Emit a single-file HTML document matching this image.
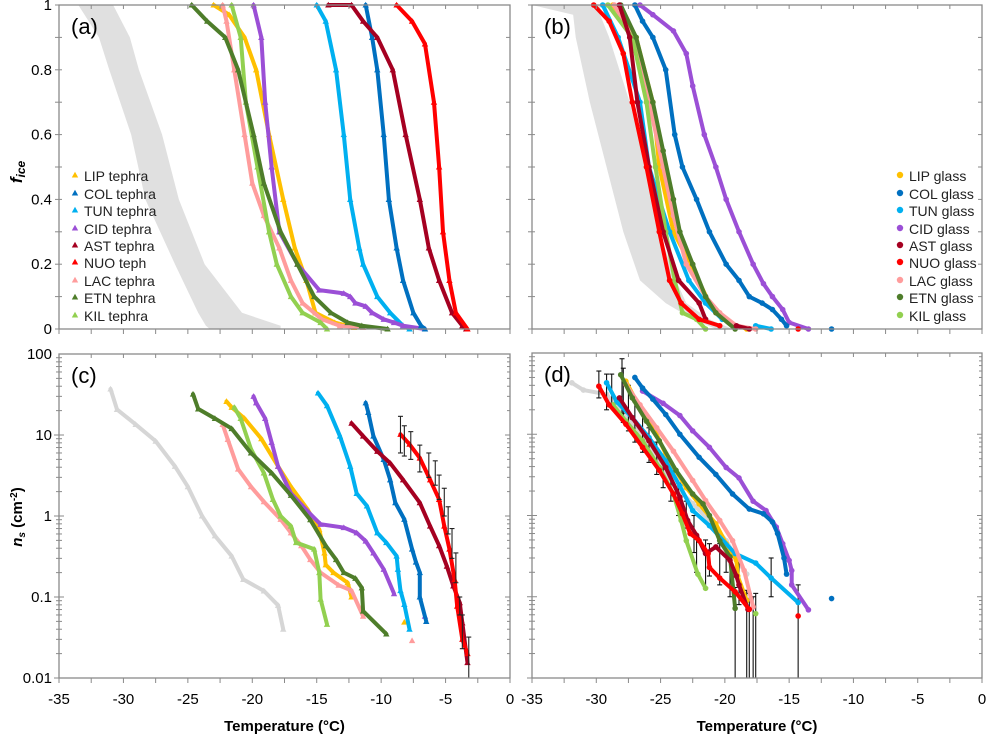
<!DOCTYPE html>
<html><head><meta charset="utf-8">
<style>
html,body{margin:0;padding:0;background:#fff;}
svg{display:block;font-family:"Liberation Sans",Arial,sans-serif;}
</style></head>
<body>
<svg id="chart" width="987" height="734" viewBox="0 0 987 734" xmlns="http://www.w3.org/2000/svg"></svg>
<script>
// ---------- DATA ----------
const seriesNames = ['LIP','COL','TUN','CID','AST','NUO','LAC','ETN','KIL'];
const seriesColors = ['#FFC000','#0070C0','#00B0F0','#9B4FD6','#A50021','#FF0000','#FF9C9C','#4E7D2A','#92D050'];
const tephraLabels = ['LIP tephra','COL tephra','TUN tephra','CID tephra','AST tephra','NUO teph','LAC tephra','ETN tephra','KIL tephra'];
const glassLabels = ['LIP glass','COL glass','TUN glass','CID glass','AST glass','NUO glass','LAC glass','ETN glass','KIL glass'];
const xTicks = [-35,-30,-25,-20,-15,-10,-5,0];
const fTicks = [0,0.2,0.4,0.6,0.8,1];
const fTickLabels = ['0','0.2','0.4','0.6','0.8','1'];
const nsTicks = [0.01,0.1,1,10,100];
const nsTickLabels = ['0.01','0.1','1','10','100'];

// panel (a) grey band
const grayA_f = [1,0.9,0.8,0.6,0.4,0.2,0.05,0.01,0];
const grayA_left = [-33.5,-31.9,-31.1,-29.4,-28.3,-26.0,-24.2,-23.6,-23.3];
const grayA_right = [-30.8,-29.5,-28.8,-27.0,-25.7,-23.7,-20.8,-17.8,-17.8];
// panel (b) grey band
const grayB_f = [1,0.97,0.9,0.7,0.5,0.3,0.15,0.08,0.03,0];
const grayB_left = [-35,-31.8,-31.6,-30.5,-29.2,-27.9,-26.6,-24.6,-22.5,-20.7];
const grayB_right = [-29.7,-29.7,-29.0,-27.4,-26.1,-25.1,-23.8,-23.0,-21.2,-19.4];

// panel (a) tephra fice
const aLIP_T=[-23.0,-21.8,-20.6,-19.7,-18.7,-17.6,-16.7,-15.8,-15.1,-13.6,-12.1];
const aLIP_f=[1,0.97,0.9,0.8,0.6,0.4,0.25,0.15,0.05,0.02,0.005];
const aCOL_T=[-11.2,-10.7,-10.3,-9.8,-9.4,-8.8,-8.3,-7.5,-6.9,-6.6];
const aCOL_f=[1,0.9,0.8,0.6,0.4,0.25,0.15,0.05,0.01,0];
const aTUN_T=[-15.0,-14.3,-13.5,-12.9,-12.4,-11.7,-11.4,-10.3,-9.3,-8.3,-7.8];
const aTUN_f=[1,0.95,0.8,0.6,0.4,0.25,0.2,0.1,0.05,0.01,0];
const aCID_T=[-19.9,-19.3,-19.0,-18.5,-17.9,-16.5,-14.8,-12.9,-12.4,-12.0,-11.2,-10.7,-9.8,-9.0,-8.3,-6.6];
const aCID_f=[1,0.9,0.7,0.5,0.3,0.2,0.12,0.11,0.1,0.08,0.07,0.05,0.03,0.02,0.01,0];
const aAST_T=[-14.1,-12.3,-11.4,-10.3,-9.1,-8.1,-7.0,-6.3,-5.5,-4.5,-3.7,-3.4];
const aAST_f=[1,1,0.95,0.9,0.8,0.6,0.4,0.25,0.15,0.05,0.01,0];
const aNUO_T=[-8.8,-7.6,-6.6,-5.9,-5.5,-5.2,-4.7,-4.2,-3.3];
const aNUO_f=[1,0.95,0.88,0.7,0.5,0.3,0.15,0.05,0];
const aLAC_T=[-22.3,-22.0,-21.4,-20.6,-20.0,-19.1,-17.9,-17.0,-16.1,-14.6,-13.2,-11.4];
const aLAC_f=[1,0.95,0.8,0.6,0.45,0.35,0.25,0.15,0.08,0.03,0.01,0.005];
const aETN_T=[-24.7,-23.5,-22.1,-21.1,-19.9,-19.1,-17.8,-16.5,-15.2,-13.9,-12.6,-11.5,-9.5];
const aETN_f=[1,0.95,0.9,0.8,0.6,0.45,0.3,0.2,0.1,0.05,0.02,0.01,0];
const aKIL_T=[-21.6,-20.9,-20.5,-19.6,-18.7,-18.1,-17.0,-16.1,-14.7,-14.2];
const aKIL_f=[1,0.9,0.7,0.5,0.3,0.2,0.1,0.05,0.02,0];

// panel (b) glass fice
const bLIP_T=[-28.7,-26.9,-25.6,-25.1,-24.0,-22.3,-21.2,-19.7,-18.3];
const bLIP_f=[1,0.9,0.7,0.5,0.3,0.17,0.08,0.02,0];
const bCOL_T=[-27.0,-26.4,-25.6,-24.6,-23.9,-23.3,-22.2,-21.2,-19.9,-18.9,-18.1,-17.1,-16.3,-15.6,-15.2,-11.7];
const bCOL_f=[1,0.95,0.9,0.8,0.6,0.5,0.4,0.3,0.2,0.15,0.1,0.08,0.06,0.03,0.01,0];
const bTUN_T=[-29.5,-28.3,-26.6,-25.9,-24.3,-22.8,-21.5,-20.2,-17.6,-16.4];
const bTUN_f=[1,0.9,0.7,0.5,0.3,0.15,0.08,0.03,0.01,0];
const bCID_T=[-26.6,-25.6,-24.0,-23.0,-22.5,-21.6,-20.7,-19.9,-18.9,-17.8,-17.0,-16.3,-15.5,-15.0,-13.5];
const bCID_f=[1,0.97,0.92,0.85,0.75,0.6,0.5,0.4,0.3,0.2,0.14,0.1,0.06,0.02,0];
const bAST_T=[-28.2,-27.4,-26.8,-25.9,-24.8,-23.6,-22.0,-21.5,-19.1,-18.1];
const bAST_f=[1,0.9,0.7,0.5,0.3,0.15,0.08,0.03,0.01,0];
const bNUO_T=[-30.2,-29.0,-27.9,-27.2,-26.1,-25.1,-24.3,-23.4,-22.0,-20.4,-14.3];
const bNUO_f=[1,0.95,0.85,0.7,0.5,0.3,0.15,0.08,0.03,0.01,0];
const bLAC_T=[-28.6,-27.2,-25.9,-24.8,-24.0,-23.0,-21.5,-20.4,-19.1,-17.6];
const bLAC_f=[1,0.9,0.7,0.5,0.35,0.2,0.1,0.05,0.01,0];
const bETN_T=[-28.1,-26.9,-25.6,-24.8,-24.0,-23.5,-22.5,-21.5,-20.7,-19.2];
const bETN_f=[1,0.9,0.7,0.55,0.4,0.3,0.2,0.1,0.05,0];
const bKIL_T=[-29.1,-27.2,-26.1,-25.4,-24.6,-23.9,-23.3,-22.2,-21.5];
const bKIL_f=[1,0.9,0.7,0.5,0.3,0.15,0.05,0.03,0];

// panel (c) tephra ns
const cGRAY_T=[-31.0,-30.5,-29.05,-27.5,-26.0,-25.0,-23.9,-22.9,-21.6,-20.7,-19.1,-18.0,-17.6];
const cGRAY_n=[37,20.7,13.5,8.4,4.1,2.3,1.0,0.57,0.32,0.165,0.119,0.079,0.040];
const cLIP_T=[-22.0,-21.6,-20.6,-19.3,-18.0,-17.0,-15.7,-14.8,-14.4,-14.3,-13.7,-12.6,-12.3,-8.2];
const cLIP_n=[26,22,16,9,4.1,2.3,1.2,0.68,0.35,0.25,0.2,0.15,0.1,0.049];
const cCOL_T=[-11.2,-11.0,-10.6,-9.8,-9.3,-8.9,-8.2,-7.6,-7.3,-7.0,-7.0,-6.5];
const cCOL_n=[25,19,9.7,5,2.8,1.46,0.91,0.39,0.27,0.2,0.1,0.05];
const cTUN_T=[-14.9,-14.2,-13.2,-12.4,-11.9,-11.1,-10.3,-9.6,-8.8,-8.7,-8.5,-8.2,-7.8];
const cTUN_n=[33,23,9.7,4.1,1.9,1.33,0.62,0.47,0.32,0.22,0.12,0.081,0.04];
const cCID_T=[-19.9,-19.7,-19.0,-18.5,-18.0,-17.0,-15.6,-14.7,-12.9,-11.9,-11.2,-10.6,-9.8,-9.0,-6.6];
const cCID_n=[30,25,16,8.1,4.1,1.9,1.1,0.79,0.72,0.62,0.49,0.35,0.22,0.11,0.058];
const cAST_T=[-12.3,-11.4,-10.3,-9.3,-8.3,-7.0,-6.2,-5.5,-4.9,-4.4,-3.9,-3.7,-3.3];
const cAST_n=[14,9.7,6.3,4.5,2.8,1.46,0.75,0.43,0.24,0.137,0.085,0.048,0.0155];
const cNUO_T=[-8.5,-7.8,-7.0,-6.2,-5.5,-5.1,-4.7,-4.3,-4.1,-3.7,-3.3];
const cNUO_n=[10.2,7.7,5.2,2.8,1.6,0.75,0.39,0.165,0.077,0.03,0.02];
const cLAC_T=[-22.3,-21.9,-21.1,-20.1,-19.1,-17.8,-17.0,-16.2,-15.5,-14.7,-13.3,-12.3,-11.4,-7.6];
const cLAC_n=[13.5,8.8,3.8,2.3,1.5,0.91,0.62,0.43,0.29,0.2,0.14,0.12,0.058,0.029];
const cETN_T=[-24.6,-24.2,-22.9,-21.6,-20.1,-18.5,-17.0,-15.5,-14.3,-13.5,-12.9,-12.0,-11.5,-11.4,-9.6];
const cETN_n=[32,21,16,12,6,3.4,1.8,0.9,0.43,0.29,0.2,0.17,0.13,0.067,0.035];
const cKIL_T=[-21.4,-20.9,-20.1,-19.1,-18.4,-17.8,-17.0,-16.6,-15.2,-14.8,-14.7,-14.2];
const cKIL_n=[22,16,6.7,3.4,1.6,1.0,0.75,0.47,0.39,0.2,0.094,0.046];
const cErr_T=[-8.5,-8.2,-7.7,-7.0,-6.3,-5.8,-5.5,-5.1,-4.8,-4.5,-4.2,-3.9,-3.7,-3.2];
const cErr_lo=[6,5.5,5,3.5,3,2.4,1.6,1.0,0.6,0.3,0.15,0.06,0.023,0.01];
const cErr_hi=[17,13,11,7.5,6,4.8,3.2,2.2,1.3,0.7,0.35,0.1,0.06,0.032];

// panel (d) glass ns
const dGRAY_T=[-31.9,-31.0,-29.2,-27.9,-26.6,-25.3,-24.0,-22.5,-21.2,-19.9,-18.9,-18.3];
const dGRAY_n=[43,35,31,17.5,11,5.2,2.4,1.4,0.87,0.49,0.26,0.19];
const dLIP_T=[-27.7,-26.6,-25.6,-24.6,-23.0,-22.0,-20.7,-19.9,-19.1,-19.0,-18.3];
const dLIP_n=[45,21,12.6,5.7,2.2,1.39,0.79,0.45,0.28,0.18,0.09];
const dCOL_T=[-27.0,-26.4,-25.6,-24.6,-23.5,-22.0,-20.7,-19.4,-18.1,-17.0,-16.3,-15.9,-15.4,-15.2,-11.7];
const dCOL_n=[50,37,27,17.5,10,5.2,3.2,1.84,1.2,1.05,0.83,0.6,0.3,0.19,0.095];
const dTUN_T=[-29.2,-28.4,-27.2,-25.9,-24.6,-23.5,-22.5,-21.2,-19.2,-17.6,-16.4,-14.3];
const dTUN_n=[43,25,16,9.1,4.7,2.3,1.15,0.75,0.34,0.26,0.17,0.085];
const dCID_T=[-26.4,-24.8,-23.5,-22.5,-21.2,-19.9,-18.9,-17.8,-16.8,-16.0,-15.5,-15.0,-14.8,-14.8,-13.5];
const dCID_n=[34,24,17,11,6.9,3.9,2.9,1.5,1.15,0.72,0.45,0.28,0.21,0.14,0.069];
const dAST_T=[-28.2,-27.2,-25.9,-24.6,-23.5,-22.9,-22.2,-21.5,-20.7,-19.6,-19.1,-18.9,-18.2];
const dAST_n=[28,16,8.3,3.9,1.68,0.87,0.57,0.34,0.41,0.28,0.18,0.14,0.07];
const dNUO_T=[-29.8,-29.0,-27.7,-26.4,-25.1,-24.0,-23.3,-22.7,-22.0,-21.3,-21.2,-20.4,-19.2,-18.1,-14.3];
const dNUO_n=[39,23,13.3,6.9,3.6,1.84,1.05,0.6,0.49,0.34,0.23,0.17,0.115,0.07,0.058];
const dLAC_T=[-27.7,-26.6,-25.3,-24.0,-22.5,-21.5,-20.4,-19.4,-18.5,-17.8];
const dLAC_n=[41,23,12,6.2,2.7,1.53,0.87,0.49,0.21,0.075];
const dETN_T=[-28.1,-27.2,-26.1,-25.1,-23.8,-22.5,-21.7,-21.2,-20.4,-19.6,-19.2];
const dETN_n=[54,28,14.5,8.3,3.6,1.84,1.39,1.0,0.49,0.31,0.072];
const dKIL_T=[-28.7,-27.7,-26.4,-25.1,-24.0,-23.4,-23.0,-22.1,-21.5,-17.6];
const dKIL_n=[23,14.5,8.3,3.9,1.84,0.87,0.49,0.19,0.127,0.062];
const dErr_T=[-29.8,-29.2,-28.8,-28.0,-27.9,-27.5,-27.0,-26.4,-25.9,-25.3,-24.8,-24.2,-23.6,-23.0,-22.4,-22.2,-21.5,-21.2,-20.4,-19.9,-19.6,-19.2,-18.9,-18.3,-18.1,-17.8,-17.6,-16.4,-14.3];
const dErr_lo=[28,20,22,18,14,11,8,6,4.5,3.2,2.2,1.5,1.0,0.7,0.35,0.2,0.13,0.18,0.14,0.2,0.1,0.01,0.08,0.01,0.01,0.01,0.01,0.1,0.01];
const dErr_hi=[60,55,55,85,65,40,25,18,12,8,5.5,3.8,2.5,1.5,1.0,0.55,0.5,0.45,0.45,0.4,0.38,0.13,0.3,0.12,0.11,0.1,0.11,0.3,0.14];

// ---------- RENDER ----------
const svg = document.getElementById('chart');
const NS = 'http://www.w3.org/2000/svg';
function el(tag, attrs, parent){
  const e = document.createElementNS(NS, tag);
  for (const k in attrs) e.setAttribute(k, attrs[k]);
  (parent || svg).appendChild(e);
  return e;
}
const panels = {
  a:{x0:59,x1:510,yT:5,yB:329,log:false},
  b:{x0:532,x1:982,yT:5,yB:329,log:false},
  c:{x0:59,x1:510,yT:354,yB:678,log:true},
  d:{x0:532,x1:982,yT:353,yB:678,log:true}
};
function sx(p,t){ return p.x0 + (t+35)/35*(p.x1-p.x0); }
function sy(p,v){
  if (p.log){ return p.yB - (Math.log10(v)+2)/4*(p.yB-p.yT); }
  return p.yB - v*(p.yB-p.yT);
}

function drawAxes(key, showXLabels, showYLabels){
  const p = panels[key];
  const g = el('g',{});
  
  
  const frame = el('rect',{x:p.x0,y:p.yT,width:p.x1-p.x0,height:p.yB-p.yT,fill:'none',stroke:'#8a8a8a','stroke-width':1.3},g);
  
  
  for (let t=-35;t<=0;t+=2.5){
    const x = sx(p,t);
    el('line',{x1:x,x2:x,y1:p.yB,y2:p.yB+5,stroke:'#8a8a8a','stroke-width':1},g);
    el('line',{x1:x,x2:x,y1:p.yT,y2:p.yT+4,stroke:'#8a8a8a','stroke-width':1},g);
  }
  if (!p.log){
    for (let i=0;i<=10;i++){
      const y = sy(p,i/10);
      el('line',{x1:p.x0-4,x2:p.x0+3,y1:y,y2:y,stroke:'#8a8a8a','stroke-width':1},g);
      el('line',{x1:p.x1-4,x2:p.x1,y1:y,y2:y,stroke:'#8a8a8a','stroke-width':1},g);
    }
  } else {
    for (let d=-2; d<2; d++){
      for (let m=1;m<=9;m++){
        const y = sy(p, m*Math.pow(10,d));
        const len = m===1?5:3;
        el('line',{x1:p.x0-len,x2:p.x0+len,y1:y,y2:y,stroke:'#8a8a8a','stroke-width':1},g);
        el('line',{x1:p.x1-len,x2:p.x1,y1:y,y2:y,stroke:'#8a8a8a','stroke-width':1},g);
      }
    }
  }
  if (showYLabels){
    const ticks = p.log ? nsTicks : fTicks;
    const labs = p.log ? nsTickLabels : fTickLabels;
    ticks.forEach((v,i)=>{
      const t = el('text',{x:p.x0-7,y:sy(p,v)+5,'text-anchor':'end','font-size':15,fill:'#000'},g);
      t.textContent = labs[i];
      
      
    });
  }
  if (showXLabels){
    xTicks.forEach(v=>{
      const t = el('text',{x:sx(p,v),y:p.yB+26,'text-anchor':'middle','font-size':15,fill:'#000'},g);
      t.textContent = String(v);
      
      
    });
    const tt = el('text',{x:(p.x0+p.x1)/2,y:731,'text-anchor':'middle','font-size':15,'font-weight':'bold',fill:'#000'},g);
    tt.textContent = 'Temperature (°C)';
    
    
  }
  const pl = el('text',{x:p.x0+12,y:p.yT+29,'font-size':22,fill:'#000'},g);
  pl.textContent = '('+key+')';
  
  
}

function drawBand(key, fArr, leftArr, rightArr){
  const p = panels[key];
  const pts = [];
  for (let i=0;i<fArr.length;i++) pts.push(sx(p,leftArr[i])+','+sy(p,fArr[i]));
  for (let i=fArr.length-1;i>=0;i--) pts.push(sx(p,rightArr[i])+','+sy(p,fArr[i]));
  const poly = el('polygon',{points:pts.join(' '),fill:'#e0e0e0',stroke:'none'});
  
  
}

function marker(g, shape, x, y, color, r){
  if (shape==='tri'){
    return el('polygon',{points:`${x},${y-r} ${x-r},${y+r*0.8} ${x+r},${y+r*0.8}`,fill:color},g);
  }
  return el('circle',{cx:x,cy:y,r:r,fill:color},g);
}

function drawSeries(key, name, T, V, color, shape){
  const p = panels[key];
  const g = el('g',{});
  
  
  const px = T.map(t=>sx(p,t));
  const py = V.map(v=>sy(p,v));
  for (let i=1;i<px.length;i++){
    const dx = Math.abs(px[i]-px[i-1]), dy = Math.abs(py[i]-py[i-1]);
    if (Math.hypot(dx,dy) < 30 || dx < 1.2*dy){
      el('line',{x1:px[i-1],y1:py[i-1],x2:px[i],y2:py[i],stroke:color,'stroke-width':4,'stroke-linecap':'round'},g);
    }
  }
  for (let i=0;i<px.length;i++){
    const m = marker(g, shape, px[i], py[i], color, shape==='tri'?3.2:2.8);
    
    
  }
}

function drawErr(key, T, lo, hi, color){
  const p = panels[key];
  const g = el('g',{});
  
  
  for (let i=0;i<T.length;i++){
    const x = sx(p,T[i]);
    const y1 = sy(p,lo[i]), y2 = sy(p,hi[i]);
    const l = el('line',{x1:x,x2:x,y1:y1,y2:y2,stroke:color,'stroke-width':1.1},g);
    
    
    el('line',{x1:x-2.5,x2:x+2.5,y1:y2,y2:y2,stroke:color,'stroke-width':1.1},g);
    if (lo[i]>0.0101) el('line',{x1:x-2.5,x2:x+2.5,y1:y1,y2:y1,stroke:color,'stroke-width':1.1},g);
  }
}

function drawLegend(x, labels, shape){
  const g = el('g',{});
  
  
  const ys = [176,194,211,229,246,263,281,298,316];
  labels.forEach((lab,i)=>{
    const e = el('g',{},g);
    
    
    marker(e, shape, x, ys[i]-1, seriesColors[i], 3.2);
    const t = el('text',{x:x+9,y:ys[i]+5,'font-size':14,fill:'#222'},e);
    t.textContent = lab;
  });
}

drawBand('a', grayA_f, grayA_left, grayA_right);
drawBand('b', grayB_f, grayB_left, grayB_right);

const aT=[aLIP_T,aCOL_T,aTUN_T,aCID_T,aAST_T,aNUO_T,aLAC_T,aETN_T,aKIL_T];
const aF=[aLIP_f,aCOL_f,aTUN_f,aCID_f,aAST_f,aNUO_f,aLAC_f,aETN_f,aKIL_f];
const bT=[bLIP_T,bCOL_T,bTUN_T,bCID_T,bAST_T,bNUO_T,bLAC_T,bETN_T,bKIL_T];
const bF=[bLIP_f,bCOL_f,bTUN_f,bCID_f,bAST_f,bNUO_f,bLAC_f,bETN_f,bKIL_f];
const cT=[cLIP_T,cCOL_T,cTUN_T,cCID_T,cAST_T,cNUO_T,cLAC_T,cETN_T,cKIL_T];
const cN=[cLIP_n,cCOL_n,cTUN_n,cCID_n,cAST_n,cNUO_n,cLAC_n,cETN_n,cKIL_n];
const dT=[dLIP_T,dCOL_T,dTUN_T,dCID_T,dAST_T,dNUO_T,dLAC_T,dETN_T,dKIL_T];
const dN=[dLIP_n,dCOL_n,dTUN_n,dCID_n,dAST_n,dNUO_n,dLAC_n,dETN_n,dKIL_n];

drawSeries('c','GRAY',cGRAY_T,cGRAY_n,'#d6d6d6','tri');
drawSeries('d','GRAY',dGRAY_T,dGRAY_n,'#d6d6d6','circ');
drawErr('d', dErr_T, dErr_lo, dErr_hi, '#111');
const order=[0,2,3,1,6,8,7,4,5];
order.forEach(i=>{
  drawSeries('a',seriesNames[i],aT[i],aF[i],seriesColors[i],'tri');
  drawSeries('b',seriesNames[i],bT[i],bF[i],seriesColors[i],'circ');
  drawSeries('c',seriesNames[i],cT[i],cN[i],seriesColors[i],'tri');
  drawSeries('d',seriesNames[i],dT[i],dN[i],seriesColors[i],'circ');
});
drawErr('c', cErr_T, cErr_lo, cErr_hi, '#222');

drawAxes('a', false, true);
drawAxes('b', false, false);
drawAxes('c', true, true);
drawAxes('d', true, false);

drawLegend(75, tephraLabels, 'tri');
drawLegend(900, glassLabels, 'circ');

const yt1 = el('text',{transform:'translate(22,172) rotate(-90)','text-anchor':'middle','font-size':17,'font-weight':'bold','font-style':'italic',fill:'#000'});


yt1.innerHTML = 'f<tspan font-size="12" dy="3">ice</tspan>';
const yt2 = el('text',{transform:'translate(22,517) rotate(-90)','text-anchor':'middle','font-size':15,'font-weight':'bold',fill:'#000'});


yt2.innerHTML = '<tspan font-style="italic">n</tspan><tspan font-size="10" dy="3" font-style="italic">s</tspan><tspan dy="-3"> (cm</tspan><tspan font-size="10" dy="-5">-2</tspan><tspan dy="5">)</tspan>';
</script>
</body></html>
